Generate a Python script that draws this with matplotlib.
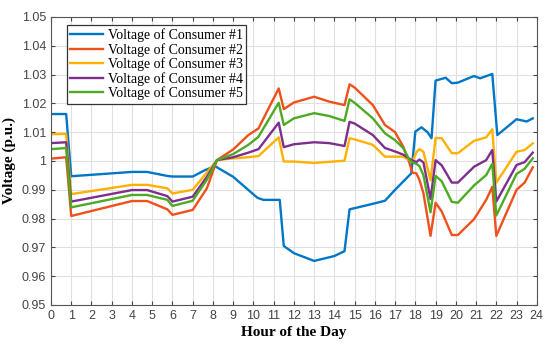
import matplotlib
matplotlib.use("Agg")
import matplotlib.pyplot as plt

# hours of the day (consumer #1 has its own break points)
hours_c1 = [0, 0.75, 1, 4, 4.75, 5.75, 6, 7, 7.6, 8.1,
            9, 10.2, 10.5, 11.3, 11.5, 12, 13, 14, 14.5, 14.75,
            16, 16.5, 17, 17.8, 18.0, 18.3, 18.6, 18.8, 19.0, 19.5,
            19.8, 20.1, 20.9, 21.2, 21.8, 22.05, 23.0, 23.5, 23.8]
hours = [0, 0.75, 1, 4, 4.75, 5.75, 6, 7, 7.7, 8.2,
         9, 9.75, 10.25, 11.25, 11.5, 12, 13, 13.75, 14.5, 14.75,
         15, 15.9, 16.5, 17, 17.4, 17.7, 17.85, 18.05, 18.2, 18.4,
         18.75, 19.0, 19.3, 19.8, 20.1, 20.9, 21.5, 21.8, 22.0, 23.0,
         23.4, 23.8]

consumer1 = [1.0163, 1.0163, 0.9947, 0.9962, 0.9962, 0.9948, 0.9946, 0.9946, 0.9968, 0.9982,
             0.9945, 0.9872, 0.9865, 0.9865, 0.9705, 0.9680, 0.9653, 0.9670, 0.9687, 0.9832,
             0.9853, 0.9862, 0.9900, 0.9957, 1.0102, 1.0117, 1.0100, 1.0079, 1.0279, 1.0289,
             1.0270, 1.0272, 1.0295, 1.0287, 1.0302, 1.0090, 1.0145, 1.0137, 1.0148]
consumer2 = [1.0008, 1.0013, 0.9809, 0.9861, 0.9861, 0.9832, 0.9813, 0.9830, 0.9905, 1.0003,
             1.0040, 1.0090, 1.0113, 1.0252, 1.0180, 1.0203, 1.0223, 1.0206, 1.0194, 1.0266,
             1.0255, 1.0194, 1.0125, 1.0100, 1.0050, 0.9995, 0.9960, 0.9957, 0.9935, 0.9888,
             0.9740, 0.9855, 0.9825, 0.9743, 0.9743, 0.9798, 0.9865, 0.9910, 0.9740, 0.9900,
             0.9925, 0.9978]
consumer3 = [1.0093, 1.0094, 0.9885, 0.9917, 0.9917, 0.9905, 0.9887, 0.9900, 0.9960, 1.0003,
             1.0009, 1.0013, 1.0017, 1.0082, 0.9998, 0.9998, 0.9993, 0.9997, 1.0001, 1.0079,
             1.0075, 1.0056, 1.0015, 1.0015, 1.0015, 1.0003, 0.9997, 1.0030, 1.0041, 1.0032,
             0.9933, 1.0080, 1.0079, 1.0027, 1.0027, 1.0070, 1.0082, 1.0110, 0.9925, 1.0032,
             1.0038, 1.0061]
consumer4 = [1.0062, 1.0065, 0.9859, 0.9899, 0.9899, 0.9878, 0.9859, 0.9876, 0.9945, 1.0003,
             1.0013, 1.0029, 1.0041, 1.0133, 1.0048, 1.0058, 1.0065, 1.0062, 1.0052, 1.0136,
             1.0130, 1.0090, 1.0045, 1.0033, 1.0022, 1.0008, 1.0002, 0.9996, 1.0005, 0.9995,
             0.9868, 1.0003, 0.9985, 0.9925, 0.9925, 0.9980, 1.0003, 1.0038, 0.9859, 0.9986,
             0.9996, 1.0029]
consumer5 = [1.0041, 1.0045, 0.9839, 0.9882, 0.9882, 0.9865, 0.9844, 0.9862, 0.9935, 1.0003,
             1.0024, 1.0056, 1.0084, 1.0202, 1.0125, 1.0148, 1.0166, 1.0156, 1.0139, 1.0214,
             1.0202, 1.0148, 1.0096, 1.0072, 1.0045, 1.0005, 0.9995, 0.9990, 0.9982, 0.9951,
             0.9822, 0.9948, 0.9930, 0.9858, 0.9855, 0.9915, 0.9951, 0.9990, 0.9811, 0.9955,
             0.9973, 1.0009]

labels = ["Voltage of Consumer #1", "Voltage of Consumer #2", "Voltage of Consumer #3",
          "Voltage of Consumer #4", "Voltage of Consumer #5"]
colors = ["#0076C6", "#F0501A", "#FFB000", "#7E2F8E", "#4DAA22"]

fig = plt.figure(figsize=(5.5, 3.46), dpi=100)
ax = fig.add_axes([0.0927, 0.1185, 0.8833, 0.8325])

series = [(hours_c1, consumer1), (hours, consumer2), (hours, consumer3),
          (hours, consumer4), (hours, consumer5)]
for (x, y), lab, c in zip(series, labels, colors):
    ax.plot(x, y, color=c, lw=1.7, label=lab)

ax.set_xlim(0, 24)
ax.set_ylim(0.95, 1.05)
ax.set_xticks(range(0, 25))
ax.set_yticks([0.95, 0.96, 0.97, 0.98, 0.99, 1.0, 1.01, 1.02, 1.03, 1.04, 1.05])
ax.set_yticklabels(["0.95", "0.96", "0.97", "0.98", "0.99", "1", "1.01", "1.02", "1.03", "1.04", "1.05"])
ax.grid(True, color="#e0e0e0", lw=0.8)
ax.set_axisbelow(True)
ax.tick_params(direction="in", top=True, right=True, length=3, color="#444444",
               labelcolor="#444444", labelsize=9)
for lbl in ax.get_xticklabels() + ax.get_yticklabels():
    lbl.set_family("Liberation Sans")
for s in ax.spines.values():
    s.set_color("#555555")
    s.set_linewidth(0.8)

ax.set_xlabel("Hour of the Day", family="Liberation Serif", fontweight="bold", fontsize=11, labelpad=3)
ax.set_ylabel("Voltage (p.u.)", family="Liberation Serif", fontweight="bold", fontsize=11, labelpad=4)

leg = ax.legend(loc="upper left", bbox_to_anchor=(0.032, 0.972), borderaxespad=0,
                prop={"family": "Liberation Serif", "size": 10}, fancybox=False,
                edgecolor="#333333", framealpha=1, handlelength=2.4, handletextpad=0.3,
                labelspacing=0.05, borderpad=0.25)
leg.get_frame().set_linewidth(0.9)

fig.savefig("out.png", dpi=100)
